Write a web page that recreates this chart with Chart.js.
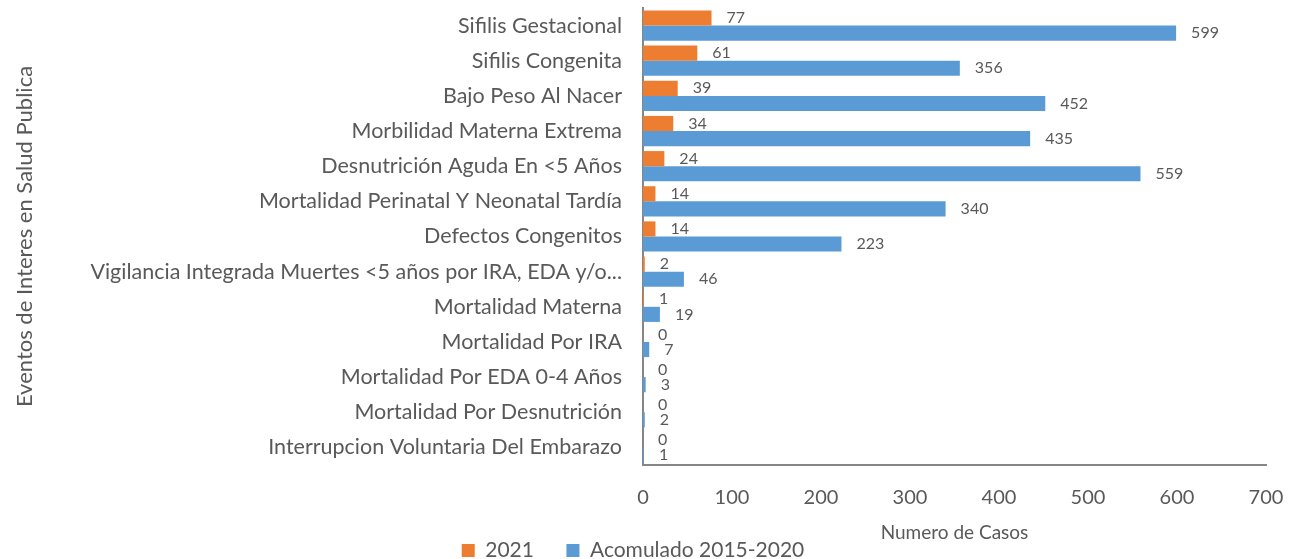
<!DOCTYPE html>
<html>
<head>
<meta charset="utf-8">
<script src="https://cdn.jsdelivr.net/npm/chart.js@4/dist/chart.umd.min.js"></script>
<style>
  html, body { margin: 0; padding: 0; background: #fff; }
  #wrap { width: 1292px; height: 559px; }
</style>
</head>
<body>
<div id="wrap"><canvas id="myChart" width="1292" height="559"></canvas></div>
<script>
const eventos = [
  'Sifilis Gestacional',
  'Sifilis Congenita',
  'Bajo Peso Al Nacer',
  'Morbilidad Materna Extrema',
  'Desnutrición Aguda En <5 Años',
  'Mortalidad Perinatal Y Neonatal Tardía',
  'Defectos Congenitos',
  'Vigilancia Integrada Muertes <5 años por IRA, EDA y/o...',
  'Mortalidad Materna',
  'Mortalidad Por IRA',
  'Mortalidad Por EDA 0-4 Años',
  'Mortalidad Por Desnutrición',
  'Interrupcion Voluntaria Del Embarazo'
]
const casos2021 = [77, 61, 39, 34, 24, 14, 14, 2, 1, 0, 0, 0, 0]
const acumulado = [599, 356, 452, 435, 559, 340, 223, 46, 19, 7, 3, 2, 1]
const xTicks = [0, 100, 200, 300, 400, 500, 600, 700]

const gray = '#595959'
const fontFam = 'Lato, "Open Sans", sans-serif'

// labels next to each bar, like the data labels in the original
const barLabels = {
  id: 'barLabels',
  afterDatasetsDraw(chart) {
    const ctx = chart.ctx
    ctx.save()
    ctx.font = '16px ' + fontFam
    ctx.fillStyle = gray
    ctx.textAlign = 'left'
    ctx.textBaseline = 'middle'
    chart.data.datasets.forEach((ds, i) => {
      const meta = chart.getDatasetMeta(i)
      meta.data.forEach((bar, j) => {
        ctx.fillText(String(ds.data[j]), bar.x + 15, bar.y)
      })
    })
    ctx.restore()
  }
}

const ctx = document.getElementById('myChart')
new Chart(ctx, {
  type: 'bar',
  data: {
    labels: eventos,
    datasets: [
      {
        label: '2021',
        data: casos2021,
        backgroundColor: '#ED7D31',
        categoryPercentage: 0.86,
        barPercentage: 1
      },
      {
        label: 'Acomulado 2015-2020',
        data: acumulado,
        backgroundColor: '#5B9BD5',
        categoryPercentage: 0.86,
        barPercentage: 1
      }
    ]
  },
  options: {
    indexAxis: 'y',
    responsive: false,
    animation: false,
    // legend sits low, partly cut at the bottom like the original
    layout: { padding: { top: 8, right: 26, left: 0, bottom: -12 } },
    plugins: {
      legend: {
        position: 'bottom',
        labels: {
          color: gray,
          font: { family: fontFam, size: 21, lineHeight: 1 },
          boxWidth: 13,
          boxHeight: 13,
          padding: 1,
          // wider gap between the two entries
          generateLabels(chart) {
            const items = Chart.defaults.plugins.legend.labels.generateLabels(chart)
            items[0].text = items[0].text + '\u2002\u2002\u2002'
            return items
          }
        }
      },
      tooltip: { enabled: false }
    },
    scales: {
      x: {
        min: 0,
        max: 700,
        afterBuildTicks(scale) {
          scale.ticks = xTicks.map(v => ({ value: v }))
        },
        afterFit(scale) {
          scale.height = 74
          scale.paddingRight = 0
        },
        grid: { display: false },
        border: { display: true, color: '#868686', width: 2 },
        ticks: { color: gray, font: { family: fontFam, size: 20 }, padding: 13 },
        title: {
          display: true,
          text: 'Numero de Casos',
          color: gray,
          font: { family: fontFam, size: 19 },
          padding: { top: 8, bottom: -5 }
        }
      },
      y: {
        afterFit(scale) {
          scale.width = 643
          scale.paddingTop = 0
          scale.paddingBottom = 0
        },
        grid: { display: false },
        border: { display: true, color: '#868686', width: 2 },
        ticks: { color: gray, font: { family: fontFam, size: 21.5 }, padding: 13, autoSkip: false },
        title: {
          display: true,
          text: 'Eventos de Interes en Salud Publica',
          color: gray,
          font: { family: fontFam, size: 22 },
          padding: { top: 12, bottom: 0 }
        }
      }
    }
  },
  plugins: [barLabels]
})
</script>
</body>
</html>
